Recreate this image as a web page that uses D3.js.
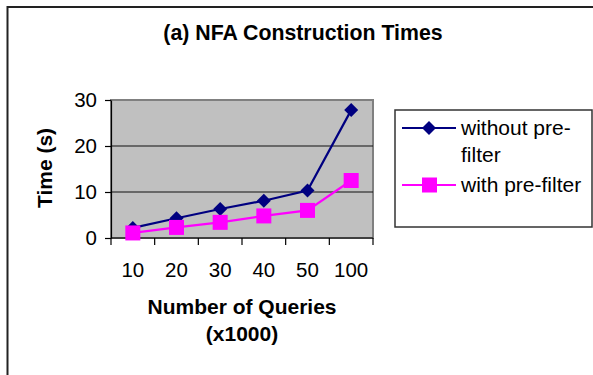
<!DOCTYPE html>
<html>
<head>
<meta charset="utf-8">
<script src="https://cdn.jsdelivr.net/npm/d3@7"></script>
<style>
  html, body { margin: 0; padding: 0; background: #fff; }
  svg { display: block; font-family: Arial, "Liberation Sans", sans-serif; }
</style>
</head>
<body>
<svg id="chart" width="593" height="375"></svg>
<script>
// Query counts (thousands) on the x axis
const categories = ["10", "20", "30", "40", "50", "100"];
// NFA construction times in seconds
const withoutPrefilter = [2.2, 4.3, 6.3, 8.1, 10.3, 27.8];
const withPrefilter = [1.1, 2.3, 3.4, 4.8, 6.0, 12.5];
const yTicks = [0, 10, 20, 30];
const seriesNames = ["without pre-filter", "with pre-filter"];

const svg = d3.select("#chart");

// outer frame
svg.append("rect")
  .attr("x", 7.5).attr("y", 7)
  .attr("width", 620).attr("height", 420)
  .attr("fill", "#fff").attr("stroke", "#222").attr("stroke-width", 2);

const plot = { left: 111, right: 373, top: 100, bottom: 238 };

const x = d3.scaleBand().domain(categories).range([plot.left, plot.right]);
const y = d3.scaleLinear().domain([0, 30]).range([plot.bottom, plot.top]);

// plot area background
svg.append("rect")
  .attr("x", plot.left).attr("y", plot.top)
  .attr("width", plot.right - plot.left).attr("height", plot.bottom - plot.top)
  .attr("fill", "#c0c0c0").attr("stroke", "#808080").attr("stroke-width", 2);

// horizontal gridlines
svg.append("g").selectAll("line")
  .data(yTicks.filter(d => d > 0 && d < 30))
  .join("line")
  .attr("x1", plot.left).attr("x2", plot.right)
  .attr("y1", d => y(d)).attr("y2", d => y(d))
  .attr("stroke", "#111").attr("stroke-width", 1.2);

// y axis
const yAxis = svg.append("g")
  .attr("transform", `translate(${plot.left},0)`)
  .call(d3.axisLeft(y).tickValues(yTicks).tickSize(6).tickPadding(8).tickSizeOuter(0));
yAxis.select(".domain").attr("stroke", "#000").attr("stroke-width", 1.2);
yAxis.selectAll(".tick line").attr("stroke", "#000").attr("stroke-width", 1.2);
yAxis.selectAll("text").attr("font-size", 20.5).attr("fill", "#000")
  .attr("font-family", "Arial, 'Liberation Sans', sans-serif");

// x axis with ticks on band boundaries
const xAxisG = svg.append("g").attr("transform", `translate(0,${plot.bottom})`);
xAxisG.append("line")
  .attr("x1", plot.left).attr("x2", plot.right)
  .attr("stroke", "#000").attr("stroke-width", 1.2);
const boundaries = categories.map(c => x(c)).concat([x(categories[categories.length - 1]) + x.bandwidth()]);
xAxisG.selectAll("line.tk").data(boundaries).join("line")
  .attr("class", "tk")
  .attr("x1", d => d).attr("x2", d => d)
  .attr("y1", 0).attr("y2", 7)
  .attr("stroke", "#000").attr("stroke-width", 1.2);
xAxisG.selectAll("text").data(categories).join("text")
  .attr("x", d => x(d) + x.bandwidth() / 2)
  .attr("y", 38.5)
  .attr("text-anchor", "middle")
  .attr("font-size", 20.5)
  .text(d => d);

// series
const cx = (d, i) => x(categories[i]) + x.bandwidth() / 2;
const line = d3.line().x(cx).y(d => y(d));

svg.append("path").datum(withoutPrefilter)
  .attr("d", line).attr("fill", "none")
  .attr("stroke", "#000080").attr("stroke-width", 2.2);
svg.append("path").datum(withPrefilter)
  .attr("d", line).attr("fill", "none")
  .attr("stroke", "#ff00ff").attr("stroke-width", 2.2);

const diamond = s => `M0,${-s}L${s},0L0,${s}L${-s},0Z`;

svg.append("g").selectAll("path").data(withoutPrefilter).join("path")
  .attr("transform", (d, i) => `translate(${cx(d, i)},${y(d)})`)
  .attr("d", diamond(7))
  .attr("fill", "#000080");

svg.append("g").selectAll("rect").data(withPrefilter).join("rect")
  .attr("x", (d, i) => cx(d, i) - 7.5)
  .attr("y", d => y(d) - 7.5)
  .attr("width", 15).attr("height", 15)
  .attr("fill", "#ff00ff");

// title
svg.append("text")
  .attr("x", 303).attr("y", 40)
  .attr("text-anchor", "middle")
  .attr("font-size", 21.3).attr("font-weight", "bold")
  .text("(a) NFA Construction Times");

// axis titles
svg.append("text")
  .attr("transform", `translate(52,168) rotate(-90)`)
  .attr("text-anchor", "middle")
  .attr("font-size", 21).attr("font-weight", "bold")
  .text("Time (s)");

svg.append("text")
  .attr("x", 242).attr("y", 314)
  .attr("text-anchor", "middle")
  .attr("font-size", 21).attr("font-weight", "bold")
  .text("Number of Queries");
svg.append("text")
  .attr("x", 242).attr("y", 341)
  .attr("text-anchor", "middle")
  .attr("font-size", 21).attr("font-weight", "bold")
  .text("(x1000)");

// legend
const legend = svg.append("g");
legend.append("rect")
  .attr("x", 395).attr("y", 110)
  .attr("width", 197).attr("height", 117)
  .attr("fill", "#fff").attr("stroke", "#333").attr("stroke-width", 1.5);

const entry1 = legend.append("g").attr("transform", "translate(0,128)");
entry1.append("line").attr("x1", 402).attr("x2", 456)
  .attr("stroke", "#000080").attr("stroke-width", 2.2);
entry1.append("path").attr("transform", "translate(429,0)")
  .attr("d", diamond(7)).attr("fill", "#000080");
const t1 = entry1.append("text").attr("x", 461).attr("y", 7).attr("font-size", 21);
t1.append("tspan").attr("x", 461).attr("dy", 0).text("without pre-");
t1.append("tspan").attr("x", 461).attr("dy", 27).text("filter");

const entry2 = legend.append("g").attr("transform", "translate(0,185)");
entry2.append("line").attr("x1", 402).attr("x2", 456)
  .attr("stroke", "#ff00ff").attr("stroke-width", 2.2);
entry2.append("rect").attr("x", 422).attr("y", -7.5)
  .attr("width", 15).attr("height", 15).attr("fill", "#ff00ff");
entry2.append("text").attr("x", 461).attr("y", 7).attr("font-size", 21)
  .text("with pre-filter");
</script>
</body>
</html>
